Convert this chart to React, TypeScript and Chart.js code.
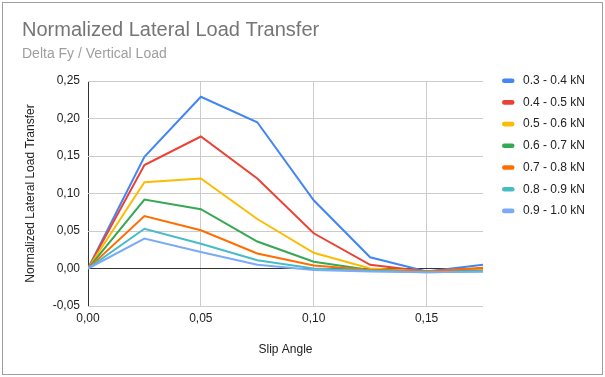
import React, { useEffect, useRef } from "react";
import { Chart, registerables } from "chart.js";

Chart.register(...registerables);

const SLIP_ANGLES = [0, 0.025, 0.05, 0.075, 0.1, 0.125, 0.15, 0.175];
const SERIES_NAMES = [
  "0.3 - 0.4 kN",
  "0.4 - 0.5 kN",
  "0.5 - 0.6 kN",
  "0.6 - 0.7 kN",
  "0.7 - 0.8 kN",
  "0.8 - 0.9 kN",
  "0.9 - 1.0 kN",
];
const LOAD_03_04 = [0, 0.149, 0.229, 0.195, 0.091, 0.015, -0.004, 0.005];
const LOAD_04_05 = [0, 0.138, 0.176, 0.12, 0.047, 0.005, -0.004, 0.0];
const LOAD_05_06 = [0, 0.115, 0.12, 0.066, 0.021, 0.0, -0.004, -0.002];
const LOAD_06_07 = [0, 0.092, 0.079, 0.036, 0.009, -0.002, -0.004, -0.003];
const LOAD_07_08 = [0, 0.07, 0.051, 0.02, 0.004, -0.002, -0.004, 0.001];
const LOAD_08_09 = [0, 0.053, 0.033, 0.011, 0.0, -0.003, -0.005, -0.004];
const LOAD_09_10 = [0, 0.04, 0.022, 0.005, -0.002, -0.004, -0.005, -0.004];
const SERIES = [LOAD_03_04, LOAD_04_05, LOAD_05_06, LOAD_06_07, LOAD_07_08, LOAD_08_09, LOAD_09_10];
const COLORS = ["#4285F4", "#EA4335", "#FBBC04", "#34A853", "#FF6D01", "#46BDC6", "#7BAAF7"];

const TITLE = "Normalized Lateral Load Transfer";
const SUBTITLE = "Delta Fy / Vertical Load";
const X_TITLE = "Slip Angle";
const Y_TITLE = "Normalized Lateral Load Transfer";
const X_MIN = 0;
const X_MAX = 0.175;
const Y_MIN = -0.05;
const Y_MAX = 0.25;
const STEP = 0.05;

const FONT = "'Liberation Sans', Arial, sans-serif";
const fmt = (v: number) => {
  const n = Math.abs(Number(v)) < 1e-9 ? 0 : Number(v);
  return n.toFixed(2).replace(".", ",");
};
const isZero = (c: any) => Math.abs(c.tick?.value ?? 1) < 1e-9;

const decor = {
  id: "decor",
  beforeDraw(chart: any) {
    const { ctx, width, height } = chart;
    ctx.save();
    ctx.fillStyle = "#ffffff";
    ctx.fillRect(0, 0, width, height);
    ctx.strokeStyle = "#9e9e9e";
    ctx.lineWidth = 1;
    ctx.strokeRect(2.5, 2.5, width - 5, height - 5);
    ctx.restore();
  },
  afterDraw(chart: any) {
    const { ctx } = chart;
    ctx.save();
    ctx.font = `12px ${FONT}`;
    ctx.textBaseline = "middle";
    ctx.textAlign = "left";
    chart.data.datasets.forEach((ds: any, i: number) => {
      const y = 80.7 + i * 21.7;
      ctx.fillStyle = ds.borderColor;
      ctx.beginPath();
      (ctx as any).roundRect(502, y - 2.3, 12.5, 4.6, 2.3);
      ctx.fill();
      ctx.fillStyle = "#222222";
      ctx.fillText(ds.label, 523, y);
    });
    ctx.restore();
  },
};

export default function App() {
  const ref = useRef<HTMLCanvasElement>(null);
  useEffect(() => {
    if (!ref.current) return;
    Chart.defaults.font.family = FONT;
    const chart = new Chart(ref.current, {
      type: "line",
      data: {
        datasets: SERIES.map((s, i) => ({
          label: SERIES_NAMES[i],
          data: SLIP_ANGLES.map((x, j) => ({ x, y: s[j] })),
          borderColor: COLORS[i],
          backgroundColor: COLORS[i],
          borderWidth: 2,
          pointRadius: 0,
          tension: 0,
          order: SERIES.length - i,
        })),
      },
      options: {
        responsive: false,
        animation: false,
        layout: { padding: { left: 22, right: 122, top: 18, bottom: 20 } },
        plugins: {
          legend: { display: false },
          tooltip: { enabled: false },
          title: {
            display: true,
            text: TITLE,
            align: "start",
            color: "#757575",
            font: { family: FONT, size: 20, weight: "normal" },
            padding: { top: 0, bottom: 3.6 },
          },
          subtitle: {
            display: true,
            text: SUBTITLE,
            align: "start",
            color: "#9e9e9e",
            font: { family: FONT, size: 14, weight: "normal" },
            padding: { top: 0, bottom: 18.6 },
          },
        },
        scales: {
          x: {
            type: "linear",
            min: X_MIN,
            max: X_MAX,
            ticks: {
              stepSize: STEP,
              includeBounds: false,
              callback: (v: any) => fmt(v),
              padding: 5,
              color: "#222222",
              font: { family: FONT, size: 12 },
              maxRotation: 0,
            },
            grid: {
              color: (c: any) => (isZero(c) ? "#333333" : "#cccccc"),
              drawTicks: false,
              lineWidth: 1,
            },
            border: { display: false },
            title: {
              display: true,
              text: X_TITLE,
              color: "#222222",
              font: { family: FONT, size: 12 },
              padding: { top: 0, bottom: 0 },
            },
            afterFit: (s: any) => {
              s.height = 51;
            },
          },
          y: {
            type: "linear",
            min: Y_MIN,
            max: Y_MAX,
            ticks: {
              stepSize: STEP,
              callback: (v: any) => fmt(v),
              padding: 8,
              color: "#222222",
              font: { family: FONT, size: 12 },
            },
            grid: {
              color: (c: any) => (isZero(c) ? "#333333" : "#cccccc"),
              drawTicks: false,
              lineWidth: 1,
            },
            border: { display: false },
            title: {
              display: true,
              text: Y_TITLE,
              color: "#222222",
              font: { family: FONT, size: 12 },
              padding: { top: 1, bottom: 0 },
            },
            afterFit: (s: any) => {
              s.width = 66;
            },
          },
        },
      } as any,
      plugins: [decor],
    });
    return () => chart.destroy();
  }, []);
  return (
    <div style={{ position: "fixed", left: 0, top: 0, width: 605, height: 377 }}>
      <canvas ref={ref} width={605} height={377} style={{ width: 605, height: 377, display: "block" }} />
    </div>
  );
}
